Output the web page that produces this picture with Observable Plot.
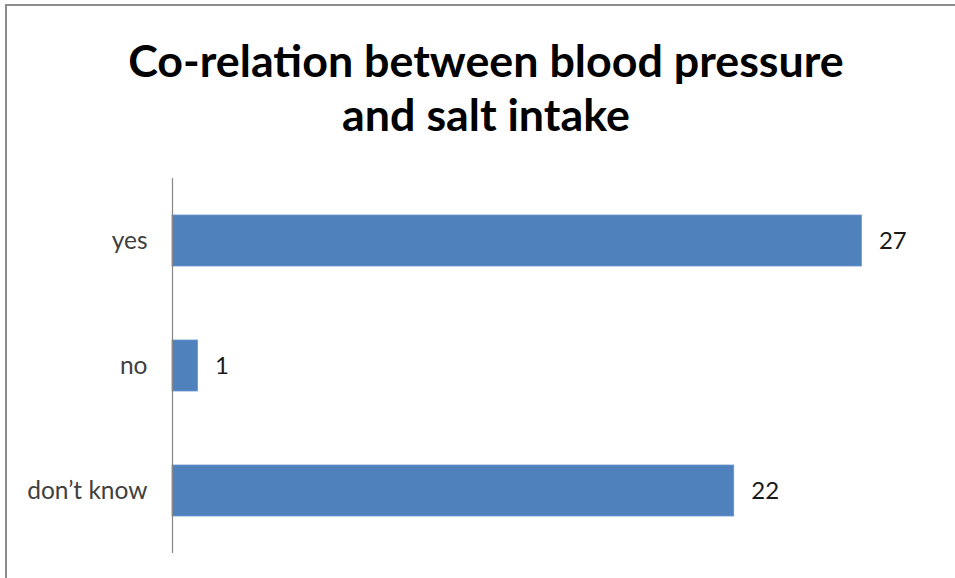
<!DOCTYPE html>
<html>
<head>
<meta charset="utf-8">
<script src="https://cdn.jsdelivr.net/npm/d3@7"></script>
<script src="https://cdn.jsdelivr.net/npm/@observablehq/plot@0.6"></script>
<style>
  html, body { margin: 0; padding: 0; background: #fff; }
  #wrap { position: relative; width: 955px; height: 578px; overflow: hidden; background: #fff; }
  #bt { position: absolute; left: 5px; top: 4px; right: 0; height: 2px; background: #8c8c8c; }
  #bl { position: absolute; left: 5px; top: 4px; bottom: 0; width: 2px; background: #8c8c8c; }
  #title { height: 160px; box-sizing: border-box; padding-top: 33px; text-align: center;
    font-family: Lato, "Open Sans", sans-serif; font-weight: bold; font-size: 44.8px; line-height: 54px; color: #000;
    padding-left: 17px; }
  #chart svg { display: block; }
</style>
</head>
<body>
<div id="wrap">
  <div id="bt"></div><div id="bl"></div>
  <div id="title">Co-relation between blood pressure<br>and salt intake</div>
  <div id="chart"></div>
</div>
<script>
const categories = ["yes", "no", "don\u2019t know"];
const values = [27, 1, 22];

const data = categories.map((c, i) => ({category: c, value: values[i]}));

const chart = Plot.plot({
  width: 955,
  height: 418,
  marginTop: 18,
  marginBottom: 25,
  marginLeft: 172,
  marginRight: 17,
  style: {fontFamily: "Lato, 'Open Sans', sans-serif", background: "#fff"},
  x: {domain: [0, 30], axis: null},
  y: {domain: categories, paddingInner: 0.59, paddingOuter: 0.286, label: null},
  marks: [
    Plot.barX(data, {x: "value", y: "category", fill: "#4f81bd", stroke: "#6a97cf", strokeWidth: 0.8}),
    Plot.ruleX([0], {stroke: "#868686", strokeWidth: 1.2}),
    Plot.axisY({tickSize: 0, tickPadding: 25, fontSize: 24.5, fill: "#404040", label: null}),
    Plot.text(data, {x: "value", y: "category", text: d => String(d.value), textAnchor: "start", dx: 17, fontSize: 24, fill: "#1a1a1a"})
  ]
});
document.getElementById("chart").appendChild(chart);
</script>
</body>
</html>
